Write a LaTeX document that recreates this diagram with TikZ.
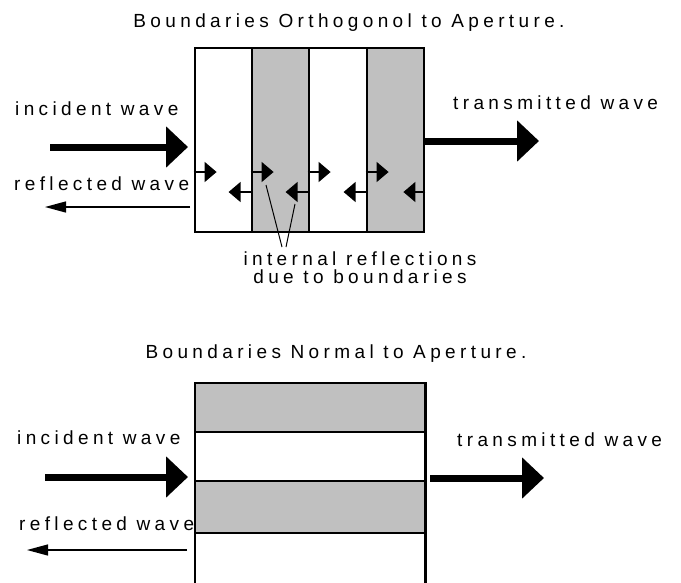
\documentclass[tikz,border=0pt]{standalone}
\usepackage{fontspec}
\setmainfont{Liberation Sans}
\newfontfamily\labfont[LetterSpace=23]{Liberation Sans}
\usetikzlibrary{arrows.meta}
\definecolor{layergray}{HTML}{C0C0C0}
\tikzset{
  lbl/.style={inner sep=0pt, font=\labfont\fontsize{19}{20}\selectfont, anchor=base west},
  ttl/.style={inner sep=0pt, font=\labfont\fontsize{19}{20}\selectfont, anchor=base},
  layer/.style={draw=black, line width=2.8pt, inner sep=0pt},
  bigarrow/.style={line width=7pt, -{Triangle[length=22pt,width=40pt]}},
  thinarrow/.style={line width=1.3pt, -{Triangle[length=21pt,width=11pt]}},
  smallarrow/.style={line width=1.5pt, -{Triangle[length=12pt,width=20pt]}},
  leader/.style={line width=1pt}
}
\begin{document}
\begin{tikzpicture}[x=1pt,y=-1pt]
\useasboundingbox (0,0) rectangle (681,582);
\clip (0,0) rectangle (681,582);
\fill[white] (0,0) rectangle (681,582);

% ---------- top panel ----------
\node[ttl] (t1) at (349,27) {Boundaries Orthogonol to Aperture.};
\node[layer, fill=white, minimum width=57pt, minimum height=184pt] (c1) at (223.5,140) {};
\node[layer, fill=layergray, minimum width=57pt, minimum height=184pt] (c2) at (280.5,140) {};
\node[layer, fill=white, minimum width=58pt, minimum height=184pt] (c3) at (338,140) {};
\node[layer, fill=layergray, minimum width=57pt, minimum height=184pt] (c4) at (395.5,140) {};

\node[lbl] (inc1) at (15,115) {incident wave};
\node[lbl] (ref1) at (14,190) {reflected wave};
\node[lbl] (tra1) at (453,109) {transmitted wave};
\node[ttl] (int1) at (360,265) {internal reflections};
\node[ttl] (due1) at (360,283) {due to boundaries};

\coordinate (inS1) at (50,147);
\coordinate (inE1) at (188,147);
\draw[bigarrow] (inS1) -- (inE1);
\coordinate (trE1) at (539,141);
\draw[bigarrow] (c4.east |- trE1) -- (trE1);
\coordinate (rfS1) at (190,207);
\coordinate (rfE1) at (45,207);
\draw[thinarrow] (rfS1) -- (rfE1);

% internal reflections
\coordinate (ry) at (0,172);
\coordinate (ly) at (0,192);
\draw[smallarrow] (c1.west |- ry) -- ++(23,0);
\draw[smallarrow] (c2.west |- ry) -- ++(23,0);
\draw[smallarrow] (c3.west |- ry) -- ++(23,0);
\draw[smallarrow] (c4.west |- ry) -- ++(23,0);
\draw[smallarrow] (c2.west |- ly) -- ++(-22,0);
\draw[smallarrow] (c3.west |- ly) -- ++(-22,0);
\draw[smallarrow] (c4.west |- ly) -- ++(-22,0);
\draw[smallarrow] (c4.east |- ly) -- ++(-22,0);

\coordinate (ld1) at (266,185);
\coordinate (ld2) at (295,204);
\draw[leader] (ld1) -- (282,247);
\draw[leader] (ld2) -- (286,247);

% ---------- bottom panel ----------
\node[ttl] (t2) at (336,358) {Boundaries Normal to Aperture.};
\node[layer, fill=white, minimum width=230.5pt, minimum height=67pt] (r4) at (310.25,566.5) {};
\node[layer, fill=layergray, minimum width=230.5pt, minimum height=52pt] (r3) at (310.25,507) {};
\node[layer, fill=white, minimum width=230.5pt, minimum height=49pt] (r2) at (310.25,456.5) {};
\node[layer, fill=layergray, minimum width=230.5pt, minimum height=49pt] (r1) at (310.25,407.5) {};

\node[lbl] (inc2) at (17,444) {incident wave};
\node[lbl] (ref2) at (19,530) {reflected wave};
\node[lbl] (tra2) at (457,446) {transmitted wave};

\coordinate (inS2) at (45,477);
\coordinate (inE2) at (188,477);
\draw[bigarrow] (inS2) -- (inE2);
\coordinate (trS2) at (430,478);
\coordinate (trE2) at (544,478);
\draw[bigarrow] (trS2) -- (trE2);
\coordinate (rfS2) at (187,550);
\coordinate (rfE2) at (27,550);
\draw[thinarrow] (rfS2) -- (rfE2);
\end{tikzpicture}
\end{document}
